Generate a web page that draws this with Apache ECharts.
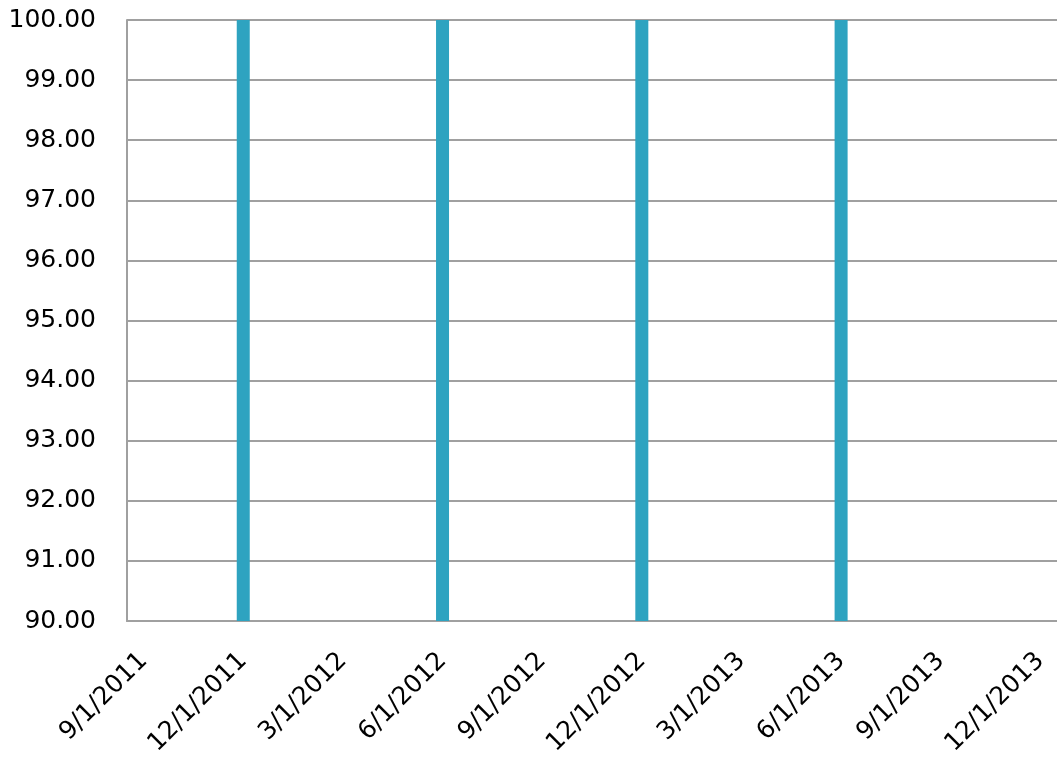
<!DOCTYPE html>
<html>
<head>
<meta charset="utf-8">
<script src="https://cdn.jsdelivr.net/npm/echarts@6/dist/echarts.min.js"></script>
<style>
    html, body {margin: 0; padding: 0; background: #fff;}
    #chart {width: 1057px; height: 764px;}
</style>
</head>
<body>
<div id="chart"></div>
<script>
// monthly categories, labels shown every 3rd month
var months = ['9/1/2011', '10/1/2011', '11/1/2011', '12/1/2011',
    '1/1/2012', '2/1/2012', '3/1/2012', '4/1/2012', '5/1/2012', '6/1/2012',
    '7/1/2012', '8/1/2012', '9/1/2012', '10/1/2012', '11/1/2012', '12/1/2012',
    '1/1/2013', '2/1/2013', '3/1/2013', '4/1/2013', '5/1/2013', '6/1/2013',
    '7/1/2013', '8/1/2013', '9/1/2013', '10/1/2013', '11/1/2013', '12/1/2013'];
var values = [null, null, null, 100,
    null, null, null, null, null, 100,
    null, null, null, null, null, 100,
    null, null, null, null, null, 100,
    null, null, null, null, null, null];
var yMin = 90;
var yMax = 100;

var myChart = echarts.init(document.getElementById('chart'));
var option = {
    backgroundColor: '#fff',
    animation: false,
    grid: {left: 127, right: 0, top: 20, bottom: 143},
    xAxis: {
        type: 'category',
        data: months,
        boundaryGap: true,
        axisTick: {show: false},
        axisLine: {show: true, lineStyle: {color: '#a0a0a0', width: 2}},
        axisLabel: {
            interval: 2, rotate: 45, margin: 36,
            color: '#000', fontSize: 25, fontFamily: 'DejaVu Sans'
        },
        splitLine: {show: false}
    },
    yAxis: {
        type: 'value',
        min: yMin, max: yMax, interval: 1,
        axisLine: {show: true, lineStyle: {color: '#a0a0a0', width: 2}},
        axisTick: {show: false},
        axisLabel: {
            margin: 31, color: '#000', fontSize: 25, fontFamily: 'DejaVu Sans',
            formatter: function (v) { return v.toFixed(2); }
        },
        splitLine: {show: true, lineStyle: {color: '#a0a0a0', width: 2}}
    },
    series: [{
        type: 'bar',
        data: values,
        barWidth: 13,
        itemStyle: {color: '#2ea3c0'}
    }]
};
myChart.setOption(option);
</script>
</body>
</html>
